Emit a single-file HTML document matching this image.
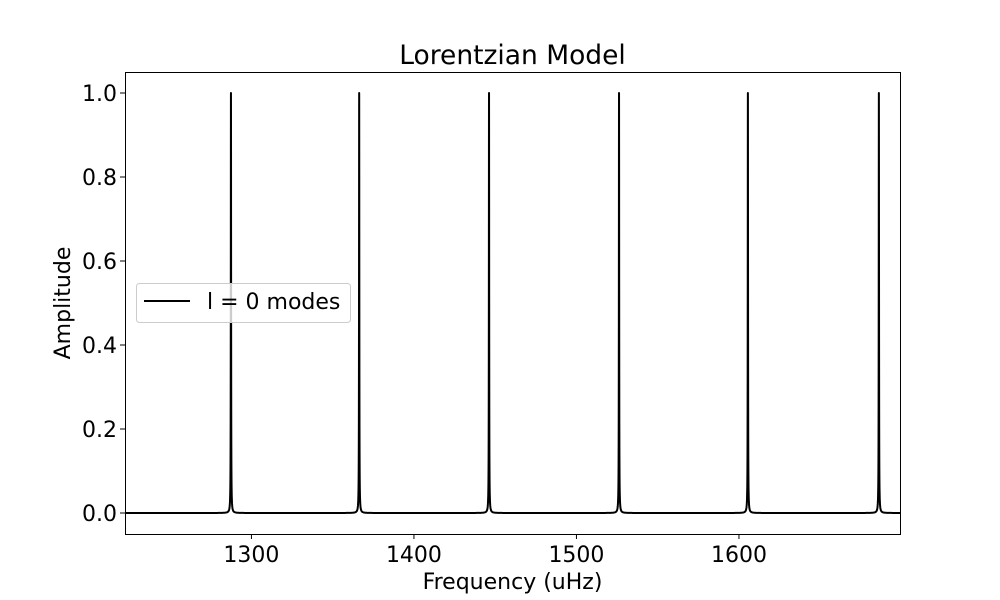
<!DOCTYPE html>
<html><head><meta charset="utf-8"><style>
body{margin:0;background:#fff}
svg{display:block;font-family:"DejaVu Sans","Liberation Sans",sans-serif}
</style></head><body>
<svg id="chart" width="1000" height="600" viewBox="0 0 1000 600">
<rect width="1000" height="600" fill="#fff"/>
<text x="512.5" y="64" font-size="26.5" text-anchor="middle">Lorentzian Model</text>
<g id="plot"></g>
<g id="axes"></g>
<text x="512.5" y="589" font-size="22" text-anchor="middle">Frequency (uHz)</text>
<text transform="translate(70,303) rotate(-90)" font-size="22" text-anchor="middle">Amplitude</text>
<g id="legend">
<rect x="136.5" y="283.5" width="214" height="39" rx="3" fill="#ffffff" fill-opacity="0.8" stroke="#ccc"/>
<line x1="144" y1="301" x2="190" y2="301" stroke="#000" stroke-width="2"/>
<text x="207" y="309" font-size="22">l = 0 modes</text>
</g>
</svg>
<script>
const peakFreqs=[1287.4,1366.3,1446.2,1526.2,1605.5,1686.1];
const peakAmps=[1,1,1,1,1,1];
const peakWidth=0.1;
const xTicks=[1300,1400,1500,1600];
const yTicks=[0.0,0.2,0.4,0.6,0.8,1.0];
const xDomain=[1222.2,1699.1];
const L=125,R=900,T=72,B=534;
const sx=v=>L+(v-xDomain[0])/(xDomain[1]-xDomain[0])*(R-L);
const sy=v=>513-v*420;
const NS='http://www.w3.org/2000/svg';
const plot=document.getElementById('plot'),axes=document.getElementById('axes');
function model(f){let s=0;for(let i=0;i<peakFreqs.length;i++){const d=(f-peakFreqs[i])/peakWidth;s+=peakAmps[i]/(1+d*d);}return s;}
let all=[];
for(let px=L;px<=R;px+=0.25){const f=xDomain[0]+(px-L)/(R-L)*(xDomain[1]-xDomain[0]);all.push([px,model(f)]);}
peakFreqs.forEach(f=>{for(let k=-40;k<=40;k++){const ff=f+k*peakWidth*0.1;all.push([sx(ff),model(ff)]);}});
all.sort((a,b)=>a[0]-b[0]);
const line=document.createElementNS(NS,'polyline');
line.setAttribute('points',all.map(p=>p[0].toFixed(2)+','+sy(p[1]).toFixed(2)).join(' '));
line.setAttribute('fill','none');line.setAttribute('stroke','#000');line.setAttribute('stroke-width','2');line.setAttribute('stroke-linejoin','round');


plot.appendChild(line);
const frame=document.createElementNS(NS,'rect');
frame.setAttribute('x',L+0.5);frame.setAttribute('y',T+0.5);frame.setAttribute('width',R-L);frame.setAttribute('height',B-T);
frame.setAttribute('fill','none');frame.setAttribute('stroke','#000');frame.setAttribute('stroke-width','1');


axes.appendChild(frame);
xTicks.forEach(v=>{const x=sx(v);
const t=document.createElementNS(NS,'line');t.setAttribute('x1',x);t.setAttribute('x2',x);t.setAttribute('y1',B);t.setAttribute('y2',B+5);t.setAttribute('stroke','#000');


axes.appendChild(t);
const tx=document.createElementNS(NS,'text');tx.setAttribute('x',x);tx.setAttribute('y',B+28);tx.setAttribute('font-size','22');tx.setAttribute('text-anchor','middle');tx.textContent=v;


axes.appendChild(tx);});
yTicks.forEach(v=>{const y=sy(v);
const t=document.createElementNS(NS,'line');t.setAttribute('x1',L-5);t.setAttribute('x2',L);t.setAttribute('y1',y);t.setAttribute('y2',y);t.setAttribute('stroke','#000');


axes.appendChild(t);
const tx=document.createElementNS(NS,'text');tx.setAttribute('x',L-8);tx.setAttribute('y',y+8);tx.setAttribute('font-size','22');tx.setAttribute('text-anchor','end');tx.textContent=v.toFixed(1);


axes.appendChild(tx);});
document.getElementById('chart').appendChild(document.getElementById('legend'));
</script>
</body></html>
